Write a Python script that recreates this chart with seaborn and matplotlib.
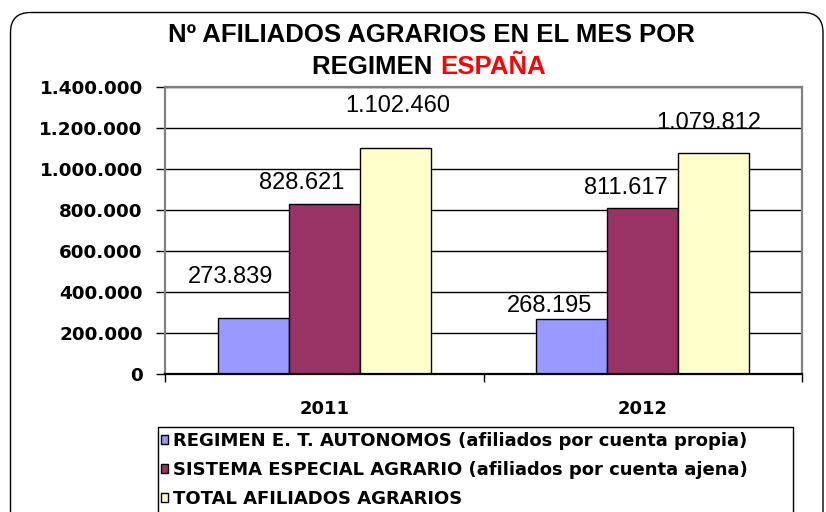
import matplotlib
matplotlib.use("Agg")
import matplotlib.pyplot as plt
from matplotlib.patches import FancyBboxPatch, Rectangle
from matplotlib.ticker import FuncFormatter, MultipleLocator
import seaborn as sns
import pandas as pd

# Data: affiliates per regime and year
years = ["2011", "2012"]
regimes = [
    "REGIMEN E. T. AUTONOMOS (afiliados por cuenta propia)",
    "SISTEMA ESPECIAL AGRARIO (afiliados por cuenta ajena)",
    "TOTAL AFILIADOS AGRARIOS",
]
autonomos = [273839, 268195]
especial_agrario = [828621, 811617]
total_agrarios = [1102460, 1079812]

colors = ["#9999FF", "#993366", "#FFFFCC"]

rows = []
for reg, vals in zip(regimes, [autonomos, especial_agrario, total_agrarios]):
    for yr, v in zip(years, vals):
        rows.append({"Año": yr, "Régimen": reg, "Afiliados": v})
df = pd.DataFrame(rows)

sns.set_theme(style="white")
plt.rcParams["font.family"] = ["Liberation Sans", "DejaVu Sans"]
plt.rcParams["text.color"] = "black"
plt.rcParams["xtick.color"] = "black"
plt.rcParams["ytick.color"] = "black"
plt.rcParams["xtick.labelcolor"] = "black"
plt.rcParams["ytick.labelcolor"] = "black"

W, H = 826, 512
fig = plt.figure(figsize=(W / 100, H / 100), dpi=100, facecolor="white")


def px(x, y):
    """Pixel position (from top-left) to figure fraction."""
    return x / W, 1 - y / H


ax = fig.add_axes([165 / W, 1 - 374 / H, (802 - 165) / W, (374 - 87) / H])

sns.barplot(data=df, x="Año", y="Afiliados", hue="Régimen", order=years,
            hue_order=regimes, palette=colors, width=0.67, gap=0,
            edgecolor="black", linewidth=1.0, saturation=1, ax=ax)

ax.set_xlim(-0.5, 1.5)
ax.set_ylim(0, 1400000)
ax.yaxis.set_major_locator(MultipleLocator(200000))
ax.yaxis.set_major_formatter(FuncFormatter(lambda v, p: f"{int(v):,}".replace(",", ".")))
ax.grid(axis="y", color="black", linewidth=1.0)
ax.set_axisbelow(True)
ax.set_xlabel("")
ax.set_ylabel("")

for lab in ax.get_yticklabels():
    lab.set_fontfamily("DejaVu Sans")
    lab.set_fontweight("bold")
    lab.set_fontsize(13.2)
    lab.set_color("black")
ax.tick_params(axis="y", direction="out", length=6.5, width=1.0, color="black",
               labelcolor="black", pad=9.5, left=True)

# Year labels under each group, boundary ticks between groups
ax.set_xticks([0, 1])
ax.set_xticklabels(years, fontfamily="DejaVu Sans", fontweight="bold", fontsize=13,
                   color="black")
ax.tick_params(axis="x", which="major", length=0, pad=19)
ax.set_xticks([-0.5, 0.5, 1.5], minor=True)
ax.tick_params(axis="x", which="minor", direction="out", length=6, width=1.0,
               color="black", bottom=True)

for side in ["left", "right", "top"]:
    ax.spines[side].set_color("#808080")
    ax.spines[side].set_linewidth(1.6)
ax.spines["bottom"].set_color("black")
ax.spines["bottom"].set_linewidth(1.6)

# Value labels above the bars
offsets = [[(-23, 41), (-22, 13)],
           [(-23, 21), (-17, 20)],
           [(2, 42), (-5, 30)]]
for container, offs in zip(ax.containers, offsets):
    for bar, (dx, dy) in zip(container, offs):
        val = bar.get_height()
        ax.annotate(f"{int(round(val)):,}".replace(",", "."),
                    xy=(bar.get_x() + bar.get_width() / 2, val),
                    xytext=(dx, dy), textcoords="offset pixels",
                    ha="center", va="center", fontsize=17,
                    fontfamily="Liberation Sans", color="black",
                    annotation_clip=False)

# Legend below the chart
handles, labels = ax.get_legend_handles_labels()
if ax.get_legend() is not None:
    ax.get_legend().remove()
fig.legend(handles, labels, loc="upper left",
           bbox_to_anchor=px(161, 432), frameon=False,
           prop={"family": "DejaVu Sans", "weight": "bold", "size": 13},
           labelcolor="black",
           handlelength=0.4, handleheight=0.4, handletextpad=0.24,
           labelspacing=0.62, borderpad=0.0, borderaxespad=0.0)
fig.patches.append(Rectangle(px(158, 540), (793 - 158) / W, (540 - 427) / H,
                             transform=fig.transFigure, facecolor="none",
                             edgecolor="black", linewidth=1.0))

# Outer rounded frame
fig.patches.append(FancyBboxPatch((10.5, -20), 812.5, 512 - 12.5 + 20,
                                  boxstyle="round,pad=0,rounding_size=20",
                                  transform=None, facecolor="none",
                                  edgecolor="black", linewidth=1.0))

# Title, second line has the region in red
fig.text(*px(431, 35), "Nº AFILIADOS AGRARIOS EN EL MES POR", ha="center",
         va="center", fontsize=18.5, fontweight="bold", color="black")
fig.canvas.draw()
renderer = fig.canvas.get_renderer()
t1 = fig.text(0, 0, "REGIMEN ", fontsize=18.5, fontweight="bold", color="black",
              va="center", ha="left")
t2 = fig.text(0, 0, "ESPAÑA", fontsize=18.5, fontweight="bold", color="#FF0000",
              va="center", ha="left")
w1 = t1.get_window_extent(renderer).width
w2 = t2.get_window_extent(renderer).width
start = 429 - (w1 + w2) / 2
t1.set_position(px(start, 67))
t2.set_position(px(start + w1, 67))

fig.savefig("out.png", dpi=100, facecolor="white")
